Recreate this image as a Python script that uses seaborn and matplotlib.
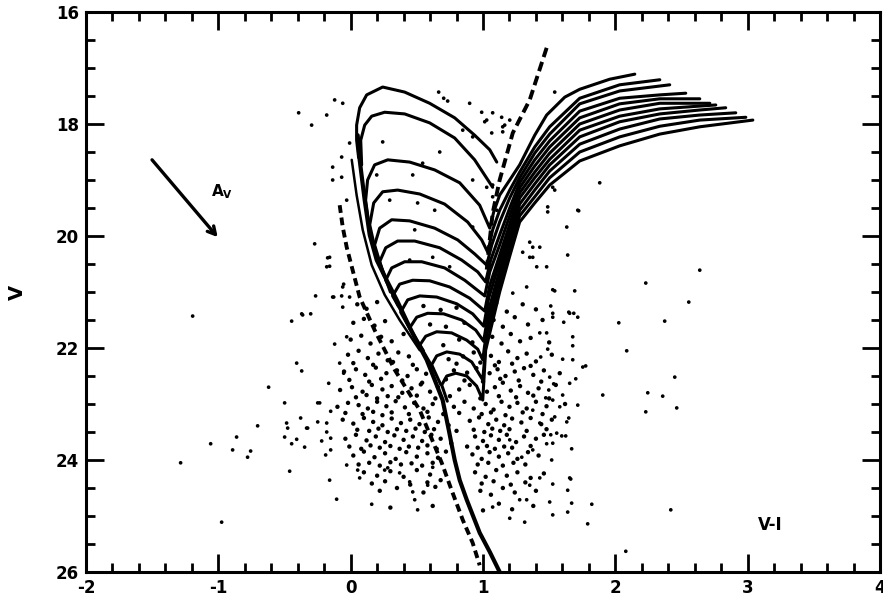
import matplotlib
matplotlib.use("Agg")
import matplotlib.pyplot as plt
from matplotlib.ticker import MultipleLocator, FixedLocator
import seaborn as sns
import pandas as pd

sns.set_style("ticks")
plt.rcParams['font.family'] = ['DejaVu Sans']
plt.rcParams['axes.unicode_minus'] = False
for key in ['text.color', 'axes.labelcolor', 'xtick.color', 'ytick.color', 'axes.edgecolor']:
    plt.rcParams[key] = 'black'

# ---------------- data ----------------
x_ticks = [-2, -1, 0, 1, 2, 3, 4]
x_tick_labels = ["-2", "-1", "0", "1", "2", "3", "4"]
y_ticks = [16, 18, 20, 22, 24, 26]
y_tick_labels = ["16", "18", "20", "22", "24", "26"]

# shared main sequence (solid)
ms_vi = [1.126, 1.051, 0.975, 0.877, 0.824, 0.786, 0.741, 0.695, 0.635, 0.574, 0.506, 0.446,
         0.348, 0.272, 0.197, 0.144, 0.106, 0.068, 0.053]
ms_v = [26.00, 25.64, 25.30, 24.71, 24.36, 24.00, 23.46, 22.93, 22.57, 22.21, 21.91, 21.63,
        21.14, 20.79, 20.43, 19.98, 19.36, 18.64, 18.20]

# blue solid sequence left of the main sequence
blue_vi = [0.008, 0.045, 0.091, 0.159, 0.257, 0.370, 0.522]
blue_v = [18.64, 19.27, 19.89, 20.52, 21.05, 21.50, 22.04]

# dashed sequence (left)
zams_vi = [-0.083, -0.060, -0.030, 0.015, 0.068, 0.181, 0.333, 0.522, 0.688, 0.763, 0.847, 0.922, 0.975]
zams_v = [19.45, 19.84, 20.20, 20.61, 21.09, 21.68, 22.39, 23.11, 24.05, 24.54, 25.07, 25.48, 25.88]

# dashed line (right, steep)
edge_vi = [1.481, 1.353, 1.225, 1.126, 1.073, 1.051, 1.028]
edge_v = [16.64, 17.57, 18.16, 19.00, 19.59, 20.07, 20.61]

# isochrone turnoff loops (young -> old)
loop01_vi = [0.060, 0.045, 0.045, 0.068, 0.121, 0.242, 0.408, 0.597, 0.786, 0.937, 1.051, 1.104]
loop01_v = [18.60, 18.29, 18.02, 17.71, 17.48, 17.34, 17.43, 17.63, 17.89, 18.20, 18.46, 18.68]
loop02_vi = [0.083, 0.076, 0.106, 0.159, 0.257, 0.408, 0.597, 0.786, 0.937, 1.073]
loop02_v = [18.73, 18.29, 18.02, 17.86, 17.79, 17.82, 17.98, 18.25, 18.64, 19.13]
loop03_vi = [0.150, 0.113, 0.128, 0.181, 0.280, 0.446, 0.635, 0.824, 0.975, 1.051]
loop03_v = [20.00, 19.36, 19.00, 18.73, 18.64, 18.68, 18.82, 19.05, 19.45, 19.86]
loop04_vi = [0.200, 0.144, 0.174, 0.242, 0.355, 0.522, 0.710, 0.884, 0.990, 1.036]
loop04_v = [20.40, 19.80, 19.41, 19.21, 19.18, 19.25, 19.43, 19.75, 20.07, 20.29]
loop05_vi = [0.250, 0.181, 0.219, 0.310, 0.446, 0.635, 0.809, 0.937, 1.028]
loop05_v = [20.70, 20.16, 19.86, 19.71, 19.73, 19.86, 20.07, 20.32, 20.52]
loop06_vi = [0.300, 0.219, 0.265, 0.355, 0.484, 0.673, 0.839, 0.960, 1.020]
loop06_v = [21.00, 20.46, 20.21, 20.09, 20.09, 20.21, 20.43, 20.64, 20.82]
loop07_vi = [0.360, 0.265, 0.310, 0.408, 0.537, 0.710, 0.862, 1.013]
loop07_v = [21.25, 20.79, 20.57, 20.46, 20.46, 20.57, 20.79, 21.07]
loop08_vi = [0.420, 0.317, 0.370, 0.469, 0.597, 0.748, 0.899, 1.013]
loop08_v = [21.50, 21.07, 20.86, 20.79, 20.80, 20.91, 21.11, 21.34]
loop09_vi = [0.480, 0.378, 0.431, 0.522, 0.650, 0.801, 0.922, 1.005]
loop09_v = [21.80, 21.36, 21.14, 21.07, 21.09, 21.21, 21.39, 21.61]
loop10_vi = [0.550, 0.446, 0.499, 0.582, 0.703, 0.839, 0.945, 1.005]
loop10_v = [22.05, 21.64, 21.45, 21.38, 21.39, 21.50, 21.68, 21.88]
loop11_vi = [0.620, 0.522, 0.567, 0.650, 0.763, 0.877, 0.960, 0.998]
loop11_v = [22.35, 21.95, 21.79, 21.71, 21.73, 21.86, 22.02, 22.21]
loop12_vi = [0.680, 0.612, 0.650, 0.726, 0.824, 0.915, 0.998]
loop12_v = [22.65, 22.30, 22.14, 22.07, 22.11, 22.25, 22.57]
loop13_vi = [0.730, 0.688, 0.726, 0.794, 0.877, 0.952, 0.998]
loop13_v = [22.95, 22.66, 22.50, 22.45, 22.50, 22.68, 22.93]

# red giant branches (attached to loops 3..13)
rgb00_vi = [1.081, 1.126, 1.202, 1.277, 1.391, 1.481, 1.618, 1.731, 1.958, 2.147]
rgb00_v = [19.57, 19.27, 19.00, 18.73, 18.20, 17.84, 17.52, 17.38, 17.20, 17.11]
rgb01_vi = [1.073, 1.126, 1.202, 1.277, 1.391, 1.504, 1.731, 2.033, 2.336]
rgb01_v = [19.89, 19.54, 19.18, 18.86, 18.41, 18.05, 17.54, 17.30, 17.21]
rgb02_vi = [1.066, 1.126, 1.202, 1.277, 1.391, 1.504, 1.731, 2.033, 2.411]
rgb02_v = [20.16, 19.75, 19.32, 18.96, 18.52, 18.18, 17.64, 17.41, 17.30]
rgb03_vi = [1.058, 1.126, 1.202, 1.277, 1.391, 1.504, 1.731, 2.033, 2.336, 2.532]
rgb03_v = [20.43, 19.98, 19.50, 19.05, 18.64, 18.30, 17.77, 17.54, 17.48, 17.45]
rgb04_vi = [1.051, 1.126, 1.202, 1.277, 1.391, 1.504, 1.731, 2.033, 2.336, 2.638]
rgb04_v = [20.64, 20.16, 19.64, 19.14, 18.75, 18.41, 17.89, 17.64, 17.55, 17.55]
rgb05_vi = [1.051, 1.126, 1.202, 1.277, 1.391, 1.504, 1.731, 2.033, 2.336, 2.714]
rgb05_v = [20.88, 20.34, 19.79, 19.23, 18.86, 18.52, 18.00, 17.75, 17.63, 17.63]
rgb06_vi = [1.043, 1.126, 1.202, 1.277, 1.391, 1.504, 1.731, 2.033, 2.336, 2.759]
rgb06_v = [21.11, 20.46, 19.89, 19.32, 18.96, 18.63, 18.11, 17.86, 17.73, 17.66]
rgb07_vi = [1.043, 1.126, 1.202, 1.277, 1.391, 1.504, 1.731, 2.033, 2.336, 2.638, 2.834]
rgb07_v = [21.32, 20.61, 20.00, 19.43, 19.07, 18.73, 18.23, 17.96, 17.82, 17.75, 17.71]
rgb08_vi = [1.036, 1.126, 1.202, 1.277, 1.391, 1.504, 1.731, 2.033, 2.336, 2.638, 2.910]
rgb08_v = [21.54, 20.75, 20.13, 19.54, 19.18, 18.84, 18.36, 18.09, 17.91, 17.84, 17.80]
rgb09_vi = [1.028, 1.126, 1.202, 1.277, 1.391, 1.504, 1.731, 2.033, 2.336, 2.638, 2.986]
rgb09_v = [21.77, 20.88, 20.25, 19.64, 19.30, 18.96, 18.50, 18.23, 18.04, 17.93, 17.88]
rgb10_vi = [1.020, 1.126, 1.202, 1.277, 1.391, 1.504, 1.731, 2.033, 2.336, 2.638, 3.039]
rgb10_v = [22.04, 21.00, 20.36, 19.75, 19.41, 19.09, 18.66, 18.39, 18.18, 18.05, 17.93]

# stars: sparse outliers
out_vi = [-1.194, -0.446, -0.408, -0.620, -0.499, -0.484, -0.476, -0.703, -0.862, -1.058, -0.892, -0.756,
          -0.779, -0.499, -0.446, -0.408, -0.461, -1.285, -0.975, -0.393,
          1.882, 2.638, 2.230, 2.555, 2.026, 2.373, 2.086, 2.449, 2.245, 2.358, 1.905, 2.230, 2.464, 1.776,
          1.822, 1.791, 2.419, 2.079,
          1.640, 1.542, 1.693, 1.512, 1.648, 1.686, 1.716, 1.527, 1.610, 1.678, 1.678, 1.489, 1.436, 1.602,
          1.701, 1.504, 1.534, 1.497, 1.474, 1.716, 1.580, 1.542, 1.648, 1.633, 1.595, 1.625, 1.557, 1.512,
          1.670, 1.481, 1.519, 1.663, 1.640, 1.527, 1.429,
          -0.272, -0.174, -0.159, -0.265, -0.128, -0.370, -0.302, -0.053, -0.068, -0.121, -0.030, -0.370,
          -0.083, -0.053, -0.166, -0.249, -0.378, -0.249, -0.151, -0.325, -0.181, -0.181, -0.348, -0.219,
          -0.151, -0.189, -0.151,
          -0.121, -0.060, -0.295, -0.181, 0.665, 0.703, 0.733, 0.899, 0.990, 1.073, 1.028, 1.141, 1.202,
          1.149, 1.066, 0.847, 0.922, 0.242, -0.008, 0.673, -0.068, -0.136, -0.136, -0.068, 0.197, 0.544,
          0.922, 0.469, -0.030, -0.159, -0.181, 0.295, 0.506, 0.635, 1.073, 1.104, 0.922, 0.748, 0.446,
          0.620, 0.484, 1.633, 1.716, 1.489, 1.489, 1.542, 1.527, 1.353, 1.376, 1.406, 1.429, 1.481, 1.330,
          1.179, 1.149, 1.225, 1.527, -0.136, -0.060, -0.008,
          1.542, 1.723, 1.353, 1.376, 1.300, 1.164, 1.149, 1.013, 1.073, 1.028,
          -0.159, -0.106, 0.159, 0.506, 1.073, 1.202, 1.315,
          -0.363, -0.060, -0.234, -0.333, -0.030, 0.068, 0.053, 0.257, 0.280, 0.370, 0.469, 0.484, 0.446,
          0.582, 0.620,
          1.330, 1.277, 1.353, 1.504, 1.655, 1.670, 1.640, 1.527, 1.202, 1.293, 1.376, 1.527, 1.429, 1.376,
          1.527, 1.602, 1.655, 1.678, 1.481, 1.429, 1.527, 1.655, 1.754]
out_v = [21.43, 21.52, 22.27, 22.70, 22.98, 23.34, 23.43, 23.39, 23.59, 23.71, 23.82, 23.84,
         23.95, 23.59, 23.71, 23.63, 24.20, 24.05, 25.11, 17.80,
         19.05, 20.61, 20.84, 21.18, 21.55, 21.52, 22.05, 22.52, 22.80, 22.86, 22.84, 23.14, 23.07, 22.32,
         24.79, 25.14, 24.89, 25.63,
         20.34, 20.98, 20.98, 21.25, 21.36, 21.38, 21.45, 21.45, 21.54, 21.80, 21.96, 22.02, 22.16, 22.20,
         22.55, 22.52, 22.64, 22.75, 22.89, 23.02, 23.05, 23.23, 23.25, 23.32, 23.57, 23.57, 23.52, 23.55,
         23.80, 23.71, 24.00, 24.34, 24.54, 24.43, 24.32,
         20.14, 20.39, 20.54, 21.07, 21.09, 21.39, 21.39, 20.86, 21.07, 21.93, 21.80, 22.41,
         22.27, 22.45, 22.63, 22.98, 23.25, 23.32, 23.13, 23.43, 23.34, 23.50, 23.77, 23.66,
         23.61, 23.91, 23.82,
         17.57, 17.63, 18.02, 17.84, 17.43, 17.54, 17.59, 17.63, 17.79, 17.80, 17.93, 17.88, 17.93,
         18.05, 18.16, 18.11, 18.23, 18.32, 18.34, 18.50, 18.59, 18.77, 19.00, 18.95, 18.91, 18.70,
         19.00, 18.91, 19.36, 20.38, 20.55, 19.36, 19.41, 19.54, 19.30, 19.54, 19.84, 20.55, 20.43,
         20.38, 19.89, 19.84, 19.54, 19.48, 19.57, 19.18, 19.13, 20.38, 20.38, 20.55, 20.20, 20.55, 20.91,
         20.48, 20.66, 21.02, 20.96, 21.09, 20.91, 21.09,
         17.43, 19.55, 20.11, 20.20, 20.29, 18.02, 18.14, 17.96, 19.09, 19.13,
         24.36, 24.70, 24.79, 24.89, 24.84, 25.04, 25.11,
         21.41, 21.27, 22.98, 23.43, 24.09, 24.32, 24.18, 24.18, 24.14, 24.23, 24.57, 24.71, 24.39,
         24.45, 24.13,
         24.71, 24.71, 24.45, 24.75, 24.32, 24.77, 24.93, 24.98, 23.64, 23.95, 23.82, 23.70, 23.34, 23.11,
         22.93, 22.84, 22.63, 22.21, 21.73, 21.73, 21.38, 21.38, 22.34]

# stars: dense cloud around the turnoff / main sequence
cloud_vi = [0.05, 0.12, 0.20, 0.55, 0.68, 0.80, 1.10, 1.18, 1.30, 1.40,
            0.02, 0.10, 0.18, 0.26, 0.60, 0.72, 0.86, 1.08, 1.15, 1.24, 1.34, 1.45,
            0.00, 0.08, 0.15, 0.23, 0.31, 0.40, 0.70, 0.82, 0.92, 1.07, 1.14, 1.21, 1.28, 1.36, 1.50,
            -0.02, 0.06, 0.13, 0.21, 0.28, 0.36, 0.44, 0.74, 0.85, 0.93, 1.06, 1.12, 1.19, 1.26, 1.33, 1.40, 1.52,
            -0.05, 0.04, 0.11, 0.19, 0.27, 0.35, 0.43, 0.50, 0.57, 0.78, 0.88, 0.95, 1.05, 1.11, 1.17, 1.24,
            1.31, 1.38, 1.46, 1.58,
            -0.08, 0.01, 0.09, 0.16, 0.24, 0.31, 0.39, 0.46, 0.53, 0.60, 0.66, 0.82, 0.90, 1.03, 1.09, 1.15,
            1.21, 1.28, 1.34, 1.42, 1.55,
            -0.10, -0.02, 0.06, 0.13, 0.20, 0.27, 0.34, 0.41, 0.48, 0.55, 0.62, 0.78, 0.86, 0.93, 1.02, 1.08,
            1.14, 1.20, 1.26, 1.33, 1.40, 1.48, 1.62,
            -0.06, 0.02, 0.10, 0.17, 0.24, 0.31, 0.38, 0.45, 0.52, 0.59, 0.66, 0.74, 0.90, 0.97, 1.04, 1.10,
            1.16, 1.22, 1.29, 1.36, 1.44, 1.52,
            -0.04, 0.04, 0.12, 0.19, 0.26, 0.33, 0.40, 0.47, 0.54, 0.61, 0.68, 0.76, 0.94, 1.00, 1.06, 1.12,
            1.18, 1.25, 1.31, 1.40, 1.46,
            0.02, 0.10, 0.18, 0.26, 0.34, 0.42, 0.50, 0.58, 0.66, 0.72, 0.92, 0.99, 1.05, 1.12, 1.19, 1.26,
            1.34, 1.42,
            0.10, 0.20, 0.30, 0.40, 0.50, 0.60, 0.68, 0.94, 1.02, 1.10, 1.18, 1.26, 1.36, 1.46,
            0.22, 0.35, 0.55, 0.64, 0.98, 1.06, 1.15, 1.24, 1.40,
            0.30, 0.62, 1.00, 1.12, 1.22, 1.38,
            # second, interleaved layer of the dense core
            0.02, 0.17, 0.32, 0.47, 0.80, 0.98, 1.09, 1.22, 1.36,
            -0.01, 0.14, 0.23, 0.39, 0.54, 0.72, 0.86, 1.00, 1.13, 1.27, 1.44,
            0.04, 0.12, 0.20, 0.28, 0.36, 0.50, 0.64, 0.75, 0.98, 1.12, 1.25, 1.38, 1.50,
            -0.04, 0.09, 0.17, 0.24, 0.31, 0.44, 0.58, 0.70, 0.82, 0.99, 1.06, 1.17, 1.30, 1.45,
            0.05, 0.14, 0.21, 0.28, 0.35, 0.42, 0.49, 0.56, 0.63, 0.80, 0.93, 1.01, 1.07, 1.13, 1.20, 1.33, 1.48,
            -0.01, 0.08, 0.15, 0.22, 0.30, 0.37, 0.44, 0.51, 0.58, 0.65, 0.88, 0.96, 1.03, 1.09, 1.16, 1.22, 1.36,
            0.06, 0.14, 0.22, 0.30, 0.38, 0.46, 0.54, 0.62, 0.96, 1.04, 1.15, 1.23, 1.32,
            0.16, 0.26, 0.45, 0.58, 0.99, 1.08, 1.21, 1.32]
cloud_v = [21.22, 21.30, 21.18, 21.25, 21.32, 21.28, 21.20, 21.35, 21.22, 21.31,
           21.55, 21.48, 21.60, 21.52, 21.58, 21.62, 21.55, 21.50, 21.62, 21.45, 21.58, 21.50,
           21.85, 21.78, 21.92, 21.80, 21.88, 21.75, 21.95, 21.85, 21.90, 21.80, 21.92, 21.75, 21.88, 21.82, 21.90,
           22.12, 22.05, 22.18, 22.10, 22.22, 22.08, 22.15, 22.20, 22.15, 22.08, 22.14, 22.25, 22.06, 22.18, 22.10, 22.24, 22.12,
           22.42, 22.38, 22.48, 22.35, 22.45, 22.40, 22.50, 22.38, 22.46, 22.40, 22.44, 22.36, 22.45, 22.38, 22.50, 22.42,
           22.36, 22.48, 22.40, 22.45,
           22.75, 22.70, 22.78, 22.66, 22.74, 22.68, 22.80, 22.72, 22.65, 22.78, 22.70, 22.74, 22.66, 22.78, 22.70, 22.62,
           22.76, 22.68, 22.80, 22.72, 22.66,
           23.05, 22.98, 23.02, 23.08, 22.96, 23.04, 22.95, 23.06, 22.98, 23.08, 23.00, 23.05, 22.96, 23.08, 23.00, 23.10,
           22.96, 23.05, 22.98, 23.08, 22.96, 23.04, 23.00,
           23.28, 23.35, 23.25, 23.32, 23.38, 23.26, 23.34, 23.28, 23.36, 23.24, 23.32, 23.38, 23.30, 23.24, 23.36, 23.28,
           23.38, 23.26, 23.33, 23.25, 23.36, 23.28,
           23.62, 23.55, 23.65, 23.58, 23.68, 23.56, 23.64, 23.58, 23.66, 23.55, 23.62, 23.70, 23.58, 23.66, 23.56, 23.64,
           23.55, 23.68, 23.58, 23.62, 23.55,
           23.92, 23.85, 23.95, 23.88, 23.98, 23.86, 23.94, 23.88, 23.96, 23.85, 23.90, 23.98, 23.86, 23.94, 23.88, 23.98,
           23.86, 23.92,
           24.22, 24.28, 24.20, 24.30, 24.18, 24.26, 24.36, 24.22, 24.30, 24.18, 24.28, 24.22, 24.32, 24.24,
           24.55, 24.50, 24.58, 24.48, 24.55, 24.62, 24.50, 24.58, 24.55,
           24.85, 24.82, 24.90, 24.78, 24.88, 24.82,
           22.27, 22.30, 22.25, 22.30, 22.28, 22.26, 22.31, 22.28, 22.32,
           22.57, 22.60, 22.55, 22.58, 22.62, 22.56, 22.58, 22.60, 22.55, 22.58, 22.60,
           22.88, 22.84, 22.90, 22.86, 22.88, 22.85, 22.90, 22.86, 22.90, 22.86, 22.88, 22.85, 22.90,
           23.16, 23.18, 23.14, 23.20, 23.15, 23.18, 23.14, 23.18, 23.16, 23.18, 23.15, 23.20, 23.15, 23.18,
           23.46, 23.48, 23.44, 23.50, 23.45, 23.48, 23.44, 23.50, 23.45, 23.48, 23.46, 23.50, 23.44, 23.48, 23.45, 23.48, 23.45,
           23.76, 23.80, 23.74, 23.78, 23.75, 23.80, 23.76, 23.78, 23.74, 23.80, 23.76, 23.78, 23.75, 23.80, 23.76, 23.78, 23.75,
           24.08, 24.05, 24.10, 24.04, 24.08, 24.06, 24.10, 24.05, 24.08, 24.05, 24.10, 24.05, 24.08,
           24.42, 24.38, 24.44, 24.40, 24.42, 24.38, 24.44, 24.40]

# ---------------- figure ----------------
fig = plt.figure(figsize=(8.83, 6.0), dpi=100)
ax = fig.add_axes([86 / 883, 1 - 572 / 600, (880 - 86) / 883, (572 - 12) / 600])

outliers = pd.DataFrame({"vi": out_vi, "v": out_v})
cloud = pd.DataFrame({"vi": cloud_vi, "v": cloud_v})
sns.scatterplot(data=outliers, x="vi", y="v", s=7, color="black", edgecolor="none",
                marker="o", ax=ax, zorder=2)
sns.scatterplot(data=cloud, x="vi", y="v", s=10, color="black", edgecolor="none",
                marker="o", ax=ax, zorder=2)

lw = 2.2
def curve(xs, ys, **kw):
    sns.lineplot(x=xs, y=ys, sort=False, estimator=None, color="black", ax=ax, zorder=3, **kw)

curve(ms_vi, ms_v, linewidth=3.0)
curve(blue_vi, blue_v, linewidth=1.8)
for xs, ys in [(loop01_vi, loop01_v), (loop02_vi, loop02_v)]:
    curve(xs, ys, linewidth=lw)
loops = [(loop03_vi, loop03_v), (loop04_vi, loop04_v), (loop05_vi, loop05_v), (loop06_vi, loop06_v),
         (loop07_vi, loop07_v), (loop08_vi, loop08_v), (loop09_vi, loop09_v), (loop10_vi, loop10_v),
         (loop11_vi, loop11_v), (loop12_vi, loop12_v), (loop13_vi, loop13_v)]
rgbs = [(rgb00_vi, rgb00_v), (rgb01_vi, rgb01_v), (rgb02_vi, rgb02_v), (rgb03_vi, rgb03_v),
        (rgb04_vi, rgb04_v), (rgb05_vi, rgb05_v), (rgb06_vi, rgb06_v), (rgb07_vi, rgb07_v),
        (rgb08_vi, rgb08_v), (rgb09_vi, rgb09_v), (rgb10_vi, rgb10_v)]
for (lx, ly), (rx, ry) in zip(loops, rgbs):
    curve(lx + rx, ly + ry, linewidth=lw)

curve(zams_vi, zams_v, linewidth=2.8, linestyle=(0, (2.0, 1.2)))
curve(edge_vi, edge_v, linewidth=2.8, linestyle=(0, (2.5, 1.3)))

# reddening arrow and labels
ax.annotate("", xy=(-1.005, 20.02), xytext=(-1.501, 18.64),
            arrowprops=dict(arrowstyle="->,head_length=0.55,head_width=0.3", lw=2.4, color="black",
                            shrinkA=0, shrinkB=0))
ax.text(-0.975, 19.20, r"A$_{\mathregular{V}}$", fontsize=11, fontweight="bold", ha="center", va="center")
ax.text(3.17, 25.16, "V-I", fontsize=12, fontweight="bold", ha="center", va="center")

# axes
ax.set_xlim(-2, 4)
ax.set_ylim(26, 16)
ax.xaxis.set_major_locator(FixedLocator(x_ticks))
ax.set_xticklabels(x_tick_labels)
ax.yaxis.set_major_locator(FixedLocator(y_ticks))
ax.set_yticklabels(y_tick_labels)
ax.xaxis.set_minor_locator(MultipleLocator(0.2))
ax.yaxis.set_minor_locator(MultipleLocator(0.5))
ax.tick_params(which="both", direction="in", top=True, right=True, width=2.0, color="black")
ax.tick_params(which="major", length=13, labelsize=12, pad=5, labelcolor="black")
ax.tick_params(which="minor", length=6.5)
for lab in ax.get_xticklabels() + ax.get_yticklabels():
    lab.set_fontweight("bold")
for sp in ax.spines.values():
    sp.set_linewidth(2.2)
    sp.set_color("black")
    sp.set_visible(True)

ax.set_xlabel("")
ax.set_ylabel("V", fontsize=14, fontweight="bold", color="black")
ax.yaxis.set_label_coords(-0.074, 0.5)

fig.savefig("out.png", dpi=100, facecolor="white")
